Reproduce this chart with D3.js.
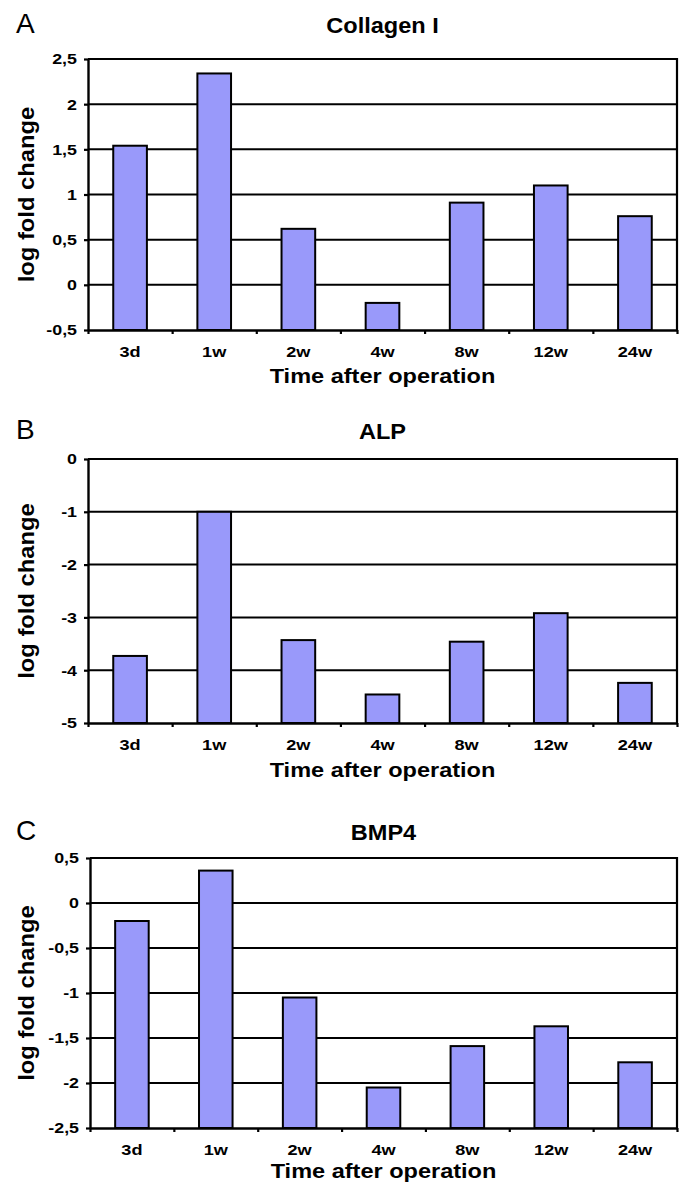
<!DOCTYPE html>
<html>
<head>
<meta charset="utf-8">
<script src="https://cdn.jsdelivr.net/npm/d3@7"></script>
<style>
  html, body { margin: 0; padding: 0; background: #fff; }
  svg { display: block; }
  text { font-family: "Liberation Sans", Arial, Helvetica, sans-serif; fill: #000; }
</style>
</head>
<body>
<svg id="chart" width="686" height="1185"></svg>
<script>
// ---- data ----
const categories = ["3d", "1w", "2w", "4w", "8w", "12w", "24w"];

const collagenValues = [1.54, 2.34, 0.62, -0.20, 0.91, 1.10, 0.76];
const alpValues      = [-3.73, -1.00, -3.43, -4.46, -3.46, -2.92, -4.24];
const bmp4Values     = [-0.20, 0.36, -1.05, -2.05, -1.59, -1.37, -1.77];

const collagenTicks      = [-0.5, 0, 0.5, 1, 1.5, 2, 2.5];
const collagenTickLabels = ["-0,5", "0", "0,5", "1", "1,5", "2", "2,5"];
const alpTicks           = [-5, -4, -3, -2, -1, 0];
const alpTickLabels      = ["-5", "-4", "-3", "-2", "-1", "0"];
const bmp4Ticks          = [-2.5, -2, -1.5, -1, -0.5, 0, 0.5];
const bmp4TickLabels     = ["-2,5", "-2", "-1,5", "-1", "-0,5", "0", "0,5"];

const panelLetters = ["A", "B", "C"];
const panelTitles  = ["Collagen I", "ALP", "BMP4"];
const yAxisTitle = "log fold change";
const xAxisTitle = "Time after operation";

// ---- layout (positions/styles, not data) ----
const layouts = [
  { left: 88, right: 677, top: 59,  bottom: 330,  head: 33,  tickY: 357,  xTitleY: 383 },
  { left: 88, right: 677, top: 459, bottom: 723,  head: 439, tickY: 750,  xTitleY: 777 },
  { left: 90, right: 677, top: 858, bottom: 1128, head: 840, tickY: 1155, xTitleY: 1178 }
];
const panels = [
  { values: collagenValues, ticks: collagenTicks, labels: collagenTickLabels },
  { values: alpValues,      ticks: alpTicks,      labels: alpTickLabels },
  { values: bmp4Values,     ticks: bmp4Ticks,     labels: bmp4TickLabels }
];

const BAR_FILL = "#9999fa";
const svg = d3.select("#chart");
svg.append("rect").attr("width", 686).attr("height", 1185).attr("fill", "#fff");

function stretch(sel, factor) {
  sel.each(function () {
    const len = this.getComputedTextLength();
    d3.select(this).attr("textLength", len * factor).attr("lengthAdjust", "spacingAndGlyphs");
  });
}

panels.forEach((p, i) => {
  const L = layouts[i];
  const g = svg.append("g");
  const ticks = p.ticks;
  const yMin = d3.min(ticks), yMax = d3.max(ticks);

  const y = d3.scaleLinear().domain([yMin, yMax]).range([L.bottom, L.top]);
  const xBar = d3.scaleBand().domain(categories).range([L.left, L.right])
    .paddingInner(0.6).paddingOuter(0.3);
  const xCat = d3.scaleBand().domain(categories).range([L.left, L.right]).padding(0);
  const xEdge = d3.scaleLinear().domain([0, categories.length]).range([L.left, L.right]);

  // gridlines (incl. top border)
  g.append("g").selectAll("line").data(ticks.filter(t => t !== yMin)).join("line")
    .attr("x1", L.left).attr("x2", L.right)
    .attr("y1", d => y(d)).attr("y2", d => y(d))
    .attr("stroke", "#000").attr("stroke-width", 2);
  // right border
  g.append("line").attr("x1", L.right).attr("x2", L.right)
    .attr("y1", y(yMax) - 1).attr("y2", y(yMin))
    .attr("stroke", "#000").attr("stroke-width", 2.2);

  // bars (from axis baseline)
  g.append("g").selectAll("rect").data(p.values).join("rect")
    .attr("x", (d, k) => xBar(categories[k]))
    .attr("width", xBar.bandwidth())
    .attr("y", d => y(d))
    .attr("height", d => y(yMin) - y(d))
    .attr("fill", BAR_FILL)
    .attr("stroke", "#000").attr("stroke-width", 2);

  // y axis
  const yAxis = d3.axisLeft(y).tickValues(ticks)
    .tickFormat((d, k) => p.labels[k]).tickSize(4).tickSizeOuter(0).tickPadding(7);
  const ya = g.append("g").attr("transform", `translate(${L.left},0)`).call(yAxis);
  ya.select(".domain").attr("stroke", "#000").attr("stroke-width", 2.4);
  ya.selectAll(".tick line").attr("stroke", "#000").attr("stroke-width", 2.2);
  ya.selectAll(".tick text").attr("font-size", 15.5).attr("font-weight", "bold")
    .attr("fill", "#000").attr("font-family", null).call(stretch, 1.15);

  // x axis: boundary ticks
  const xAxis = d3.axisBottom(xEdge).tickValues(d3.range(categories.length + 1))
    .tickFormat("").tickSize(4).tickSizeOuter(0);
  const xa = g.append("g").attr("transform", `translate(0,${L.bottom})`).call(xAxis);
  xa.select(".domain").attr("stroke", "#000").attr("stroke-width", 2.4);
  xa.selectAll(".tick line").attr("stroke", "#000").attr("stroke-width", 2.2);

  // category labels
  g.append("g").selectAll("text").data(categories).join("text")
    .attr("x", d => xCat(d) + xCat.bandwidth() / 2)
    .attr("y", L.tickY)
    .attr("text-anchor", "middle")
    .attr("font-size", 15.5).attr("font-weight", "bold")
    .text(d => d).call(stretch, 1.17);

  // x title
  g.append("text").attr("x", (L.left + L.right) / 2).attr("y", L.xTitleY)
    .attr("text-anchor", "middle").attr("font-size", 21).attr("font-weight", "bold")
    .text(xAxisTitle).call(stretch, 1.12);

  // y title
  g.append("text")
    .attr("transform", `translate(34,${(L.top + L.bottom) / 2}) rotate(-90)`)
    .attr("text-anchor", "middle").attr("font-size", 22).attr("font-weight", "bold")
    .text(yAxisTitle).call(stretch, 1.08);

  // panel title
  g.append("text").attr("x", (L.left + L.right) / 2).attr("y", L.head)
    .attr("text-anchor", "middle").attr("font-size", 22).attr("font-weight", "bold")
    .text(panelTitles[i]).call(stretch, 1.07);

  // panel letter
  g.append("text").attr("x", 16).attr("y", L.head)
    .attr("font-size", 28).text(panelLetters[i]);
});
</script>
</body>
</html>
